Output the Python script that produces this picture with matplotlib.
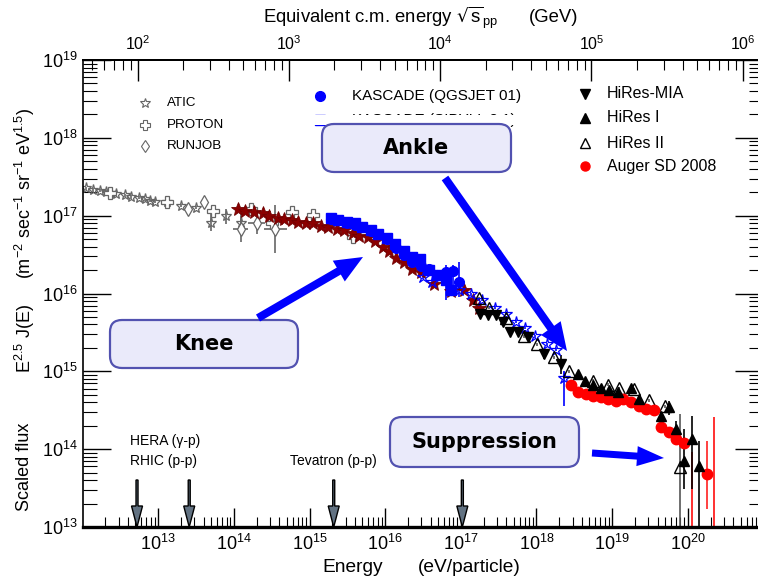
import numpy as np
import matplotlib
matplotlib.use("Agg")
import matplotlib.pyplot as plt
from matplotlib.patches import FancyBboxPatch, FancyArrow, Rectangle
from matplotlib.lines import Line2D
from matplotlib.transforms import IdentityTransform
from matplotlib.ticker import FixedLocator, NullFormatter, LogFormatterSciNotation

plt.rcParams['font.family'] = ['Liberation Sans', 'DejaVu Sans']
plt.rcParams['mathtext.default'] = 'regular'

W, H, DPI = 758, 581, 100

# ---------------- data: log10(E/eV) and log10(E^2.5 J(E)) ----------------
atic_logE = [12.05, 12.14, 12.23, 12.31, 12.38, 12.44, 12.56, 12.64, 12.74, 12.83,
             12.89, 12.96, 13.11, 13.30, 13.50, 13.70, 13.90, 14.09]
atic_logF = [17.35, 17.33, 17.32, 17.31, 17.29, 17.28, 17.26, 17.24, 17.23, 17.21,
             17.19, 17.18, 17.17, 17.13, 17.10, 16.91, 16.99, 16.91]
atic_err = [0.02] * 15 + [0.11, 0.10, 0.12]

proton_logE = [12.36, 13.12, 13.73, 14.22, 14.50, 14.77, 15.04, 15.57]
proton_logF = [17.29, 17.18, 17.06, 17.09, 16.91, 17.05, 17.01, 16.73]

runjob_logE = [13.40, 13.60, 14.09, 14.30, 14.55]
runjob_logF = [17.08, 17.17, 16.83, 16.91, 16.83]
runjob_err = [0.03, 0.03, 0.17, 0.15, 0.31]
runjob_xerr = [0.0, 0.0, 0.10, 0.11, 0.15]

tibet_logE = [14.05, 14.15, 14.26, 14.38, 14.46, 14.58, 14.66, 14.77, 14.85, 14.95,
              15.05, 15.15, 15.25, 15.36, 15.45, 15.57, 15.66, 15.77, 15.86, 15.97,
              16.05, 16.14, 16.25, 16.36, 16.47, 16.64, 16.87, 17.04, 17.16, 17.24]
tibet_logF = [17.08, 17.06, 17.05, 17.03, 17.00, 16.97, 16.96, 16.94, 16.92, 16.91,
              16.90, 16.87, 16.86, 16.83, 16.81, 16.78, 16.74, 16.72, 16.67, 16.60,
              16.54, 16.46, 16.40, 16.31, 16.27, 16.12, 16.03, 16.05, 15.92, 15.82]

kq_logE = [15.28, 15.38, 15.49, 15.60, 15.70, 15.81, 15.91, 16.03, 16.14, 16.25,
           16.36, 16.47, 16.58, 16.68, 16.80, 16.89, 16.97]
kq_logF = [16.96, 16.94, 16.91, 16.88, 16.85, 16.80, 16.76, 16.70, 16.58, 16.50,
           16.40, 16.35, 16.31, 16.24, 16.27, 16.29, 16.15]
kq_err_up = [0.02] * 14 + [0.10, 0.07, 0.25]
kq_err_dn = [0.02] * 14 + [0.35, 0.30, 0.20]

ks_logE = [15.28, 15.38, 15.49, 15.60, 15.70, 15.81, 15.91, 16.02, 16.13, 16.25,
           16.35, 16.46, 16.58, 16.68, 16.80, 16.87]
ks_logF = [16.97, 16.95, 16.92, 16.90, 16.86, 16.81, 16.77, 16.71, 16.64, 16.54,
           16.47, 16.44, 16.30, 16.24, 16.17, 16.05]

grande_logE = [16.50, 16.62, 16.97, 17.13, 17.28, 17.45, 17.60, 17.73, 17.85, 17.98,
               18.14, 18.26, 18.36]
grande_logF = [16.21, 16.15, 16.05, 15.99, 15.92, 15.82, 15.74, 15.64, 15.56, 15.45,
               15.35, 15.28, 14.92]
grande_err_up = [0.02] * 12 + [0.08]
grande_err_dn = [0.02] * 12 + [0.37]

mia_logE = [17.26, 17.36, 17.46, 17.56, 17.65, 17.75, 17.89, 18.10, 18.32]
mia_logF = [15.74, 15.72, 15.72, 15.63, 15.51, 15.51, 15.44, 15.22, 15.09]
mia_err = [0.02] * 7 + [0.06, 0.12]

hires1_logE = [18.55, 18.64, 18.75, 18.85, 18.96, 19.08, 19.25, 19.36, 19.65, 19.75,
               19.85, 19.95, 20.05, 20.15]
hires1_logF = [14.96, 14.87, 14.82, 14.79, 14.76, 14.74, 14.78, 14.65, 14.42, 14.54,
               14.26, 13.85, 14.13, 13.79]
hires1_err_up = [0.02] * 8 + [0.04, 0.08, 0.10, 0.41, 0.29, 0.31]
hires1_err_dn = [0.02] * 8 + [0.04, 0.10, 0.12, 0.36, 0.64, 0.80]

hires2_logE = [17.24, 17.37, 17.60, 17.83, 18.01, 18.23, 18.43, 18.75, 18.95, 19.09,
               19.29, 19.49, 19.70, 19.90]
hires2_logF = [15.94, 15.82, 15.69, 15.45, 15.35, 15.18, 15.00, 14.88, 14.83, 14.78,
               14.77, 14.63, 14.55, 13.77]
hires2_err_up = [0.02] * 13 + [0.68]
hires2_err_dn = [0.02] * 13 + [2.0]

auger_logE = [18.45, 18.55, 18.65, 18.75, 18.85, 18.95, 19.05, 19.15, 19.25, 19.35,
              19.45, 19.55, 19.65, 19.75, 19.85, 19.95, 20.25]
auger_logF = [14.83, 14.74, 14.71, 14.68, 14.67, 14.64, 14.62, 14.64, 14.60, 14.55,
              14.51, 14.50, 14.28, 14.22, 14.13, 14.08, 13.68]
auger_err_up = [0.01] * 14 + [0.05, 0.08, 0.42]
auger_err_dn = [0.01] * 14 + [0.05, 0.08, 0.45]
# bins with only an upper flux value (line drawn down to the axis)
auger_ul_logE = [20.05, 20.35]
auger_ul_logF = [13.97, 14.41]

# collider energies expressed as equivalent fixed-target energy
acc_names = ["HERA", "RHIC", "Tevatron", "LHC"]
acc_logE = [12.72, 13.41, 15.32, 17.02]

# decade ticks
energy_decades = list(range(13, 21))
flux_decades = list(range(13, 20))
sqrts_decades = list(range(2, 7))

PROTON_MASS_GEV = 0.938


def sqrt_s(E_eV):
    return np.sqrt(2.0 * PROTON_MASS_GEV * np.asarray(E_eV) * 1e-9)


def P(x, y):
    """image pixel (from top-left) -> display pixel (from bottom-left)"""
    return x, H - y


def decade_ticks(decs):
    return [10.0 ** d for d in decs]


def minor_ticks(lo, hi):
    out = []
    for d in range(int(np.floor(lo)), int(np.ceil(hi)) + 1):
        for s in range(2, 10):
            v = s * 10.0 ** d
            if 10 ** lo < v < 10 ** hi:
                out.append(v)
    return out


fig = plt.figure(figsize=(W / DPI, H / DPI), dpi=DPI)
x_left, x_right, y_top, y_bot = 83.3, 762.7, 60.0, 527.0
ax = fig.add_axes([x_left / W, (H - y_bot) / H, (x_right - x_left) / W, (y_bot - y_top) / H])
ax.set_xscale('log')
ax.set_yscale('log')
xlo, xhi = 12.01, 20.99
ax.set_xlim(10 ** xlo, 10 ** xhi)
ax.set_ylim(1e13, 1e19)


def series(logE, logF, up=None, dn=None, dx=None, ecolor='k', elw=1.2, **style):
    E = 10.0 ** np.asarray(logE)
    F = 10.0 ** np.asarray(logF)
    yerr = None
    if up is not None:
        u = np.asarray(up)
        d = np.asarray(dn if dn is not None else up)
        yerr = [F - F / 10 ** d, F * 10 ** u - F]
    xerr = None
    if dx is not None:
        d = np.asarray(dx)
        xerr = [E - E / 10 ** d, E * 10 ** d - E]
    ax.errorbar(E, F, yerr=yerr, xerr=xerr, ecolor=ecolor, elinewidth=elw,
                capsize=0, linestyle='none', **style)


grey = '#666666'
series(atic_logE, atic_logF, atic_err, ecolor=grey, marker='*', ms=8,
       mfc='none', mec=grey, mew=0.9)
series(proton_logE, proton_logF, marker='P', ms=8, mfc='white', mec=grey, mew=0.9)
series(runjob_logE, runjob_logF, runjob_err, dx=runjob_xerr, ecolor=grey, marker='d',
       ms=7, mfc='white', mec=grey, mew=0.9)
series(tibet_logE, tibet_logF, marker='*', ms=10, mfc='#8b0000', mec='#700000', mew=0.6)
series(ks_logE, ks_logF, marker='s', ms=7, color='#0000ff', mec='#0000ff')
series(kq_logE, kq_logF, kq_err_up, kq_err_dn, ecolor='#0000ff', marker='o', ms=7,
       color='#0000ff', mec='#0000ff')
series(grande_logE, grande_logF, grande_err_up, grande_err_dn, ecolor='#0000ff',
       marker='*', ms=9, mfc='none', mec='#0000ff', mew=0.9)
series(mia_logE, mia_logF, mia_err, marker='v', ms=7, color='k')
series(hires2_logE, hires2_logF, hires2_err_up, hires2_err_dn, ecolor='#555555',
       marker='^', ms=8, mfc='none', mec='k', mew=1.0)
ax.vlines(10.0 ** np.asarray(auger_ul_logE), 1e12, 10.0 ** np.asarray(auger_ul_logF),
          color='#ff2020', lw=1.3)
series(auger_logE, auger_logF, auger_err_up, auger_err_dn, ecolor='#ff2020',
       marker='o', ms=7.5, color='#ff0000', mec='#ff0000')
series(hires1_logE, hires1_logF, hires1_err_up, hires1_err_dn, marker='^', ms=7, color='k')

# ---------------- axes, ticks ----------------
ax2 = ax.twiny()
ax2.set_xscale('log')
s_lo, s_hi = sqrt_s(ax.get_xlim())
ax2.set_xlim(s_lo, s_hi)
for s in ('bottom', 'left', 'right'):
    ax2.spines[s].set_visible(False)
ax2.spines['top'].set_linewidth(1.4)

fmt = LogFormatterSciNotation()
ax.xaxis.set_major_locator(FixedLocator(decade_ticks(energy_decades)))
ax.xaxis.set_minor_locator(FixedLocator(minor_ticks(xlo, xhi)))
ax.yaxis.set_major_locator(FixedLocator(decade_ticks(flux_decades)))
ax.yaxis.set_minor_locator(FixedLocator(minor_ticks(13, 19)))
ax2.xaxis.set_major_locator(FixedLocator(decade_ticks(sqrts_decades)))
ax2.xaxis.set_minor_locator(FixedLocator(minor_ticks(np.log10(s_lo), np.log10(s_hi))))
for a in (ax.xaxis, ax.yaxis, ax2.xaxis):
    a.set_major_formatter(LogFormatterSciNotation())
    a.set_minor_formatter(NullFormatter())

ax.tick_params(axis='y', which='major', direction='in', length=20, width=1.0,
               left=True, right=True, labelsize=13, pad=4)
ax.tick_params(axis='y', which='minor', direction='in', length=10, width=0.8,
               left=True, right=True)
ax.tick_params(axis='x', which='major', direction='in', length=14, width=1.0,
               top=False, bottom=True, labelsize=13, pad=5)
ax.tick_params(axis='x', which='minor', direction='in', length=7, width=0.8,
               top=False, bottom=True)
ax2.tick_params(axis='x', which='major', direction='in', length=15, width=1.0,
                labelsize=11.5, pad=5)
ax2.tick_params(axis='x', which='minor', direction='in', length=7, width=0.8)

ax.spines['bottom'].set_linewidth(2.4)
ax.spines['left'].set_linewidth(1.2)
ax.spines['top'].set_linewidth(1.4)

# ---------------- axis titles ----------------
def ftext(x, y, s, **kw):
    return fig.text(x / W, (H - y) / H, s, **kw)


ftext(263, 18, r'Equivalent c.m. energy $\sqrt{s}_{pp}$', ha='left', va='center',
      fontsize=13.3)
ftext(529, 18, '(GeV)', ha='left', va='center', fontsize=13.3)
ftext(322, 568, 'Energy', ha='left', va='center', fontsize=13.8)
ftext(418, 568, '(eV/particle)', ha='left', va='center', fontsize=13.8)
ftext(25, 467, 'Scaled flux', ha='center', va='center', rotation=90, fontsize=13)
ftext(25, 338, r'E$^{2.5}$ J(E)', ha='center', va='center', rotation=90, fontsize=13)
ftext(25, 193, r'(m$^{-2}$ sec$^{-1}$ sr$^{-1}$ eV$^{1.5}$)', ha='center', va='center',
      rotation=90, fontsize=13)

# ---------------- legends ----------------
ID = IdentityTransform()


def legend_entry(mx, y, tx, label, fs, **mstyle):
    x0, y0 = P(mx, y)
    fig.add_artist(Line2D([x0], [y0], transform=ID, linestyle='none', zorder=3, **mstyle))
    ftext(tx, y, label, ha='left', va='center', fontsize=fs, zorder=3)


legend_entry(145, 103, 167, 'ATIC', 9.6, marker='*', ms=7, mfc='none', mec=grey, mew=0.8)
legend_entry(145, 125, 167, 'PROTON', 9.6, marker='P', ms=7, mfc='white', mec=grey, mew=0.8)
legend_entry(145, 146, 167, 'RUNJOB', 9.6, marker='d', ms=6.5, mfc='white', mec=grey, mew=0.8)

legend_entry(320, 96, 352, 'KASCADE (QGSJET 01)', 11, marker='o', ms=7, color='#0000ff')
legend_entry(320, 120, 352, 'KASCADE (SIBYLL 2.1)', 11, marker='s', ms=6.5, color='#0000ff')
# plain band cutting the second KASCADE entry just above the Ankle box
fig.add_artist(Rectangle(P(300, 125), 240, 10, transform=ID, facecolor='white',
                         edgecolor='none', zorder=3.5))

legend_entry(585, 94, 607, 'HiRes-MIA', 11.5, marker='v', ms=7, color='k')
legend_entry(585, 118, 607, 'HiRes I', 11.5, marker='^', ms=7, color='k')
legend_entry(585, 143, 607, 'HiRes II', 11.5, marker='^', ms=7, mfc='none', mec='k', mew=1.0)
legend_entry(585, 166, 607, 'Auger SD 2008', 11.5, marker='o', ms=6.5, color='#ff0000')

# ---------------- annotation boxes and arrows ----------------


def label_box(x0, y0, x1, y1, text):
    bx, by = P(x0, y1)
    fig.add_artist(FancyBboxPatch((bx, by), x1 - x0, y1 - y0,
                                  boxstyle='round,pad=0,rounding_size=12',
                                  transform=ID, facecolor='#eaeafa', edgecolor='#5252b0',
                                  linewidth=1.6, zorder=4))
    ftext((x0 + x1) / 2, (y0 + y1) / 2, text, ha='center', va='center',
          fontsize=15, fontweight='bold', family='DejaVu Sans', zorder=5)


def blue_arrow(xs, ys, xe, ye, width=8, head_w=24, head_l=28):
    sx, sy = P(xs, ys)
    ex, ey = P(xe, ye)
    fig.add_artist(FancyArrow(sx, sy, ex - sx, ey - sy, width=width, head_width=head_w,
                              head_length=head_l, length_includes_head=True,
                              transform=ID, color='#0000ff', linewidth=0, zorder=4.5))


label_box(322, 124, 511, 172, 'Ankle')
label_box(110, 320, 298, 368, 'Knee')
label_box(390, 417, 579, 467, 'Suppression')

blue_arrow(445, 178, 567, 351)
blue_arrow(258, 318, 363, 257)
blue_arrow(592, 453, 664, 458, width=7, head_w=20, head_l=27)

# collider markers along the energy axis
for lg in acc_logE:
    xd = ax.transData.transform((10 ** lg, 1e13))[0]
    fig.add_artist(FancyArrow(xd, H - 480, 0, -(y_bot - 480), width=2.0, head_width=11,
                              head_length=21, length_includes_head=True, transform=ID,
                              facecolor='#627282', edgecolor='k', linewidth=1.0, zorder=3))

ftext(165, 441, 'HERA (γ-p)', ha='center', va='center', fontsize=10)
ftext(164, 461, 'RHIC (p-p)', ha='center', va='center', fontsize=10)
ftext(333, 461, 'Tevatron (p-p)', ha='center', va='center', fontsize=10)

fig.savefig('out.png', dpi=DPI)
